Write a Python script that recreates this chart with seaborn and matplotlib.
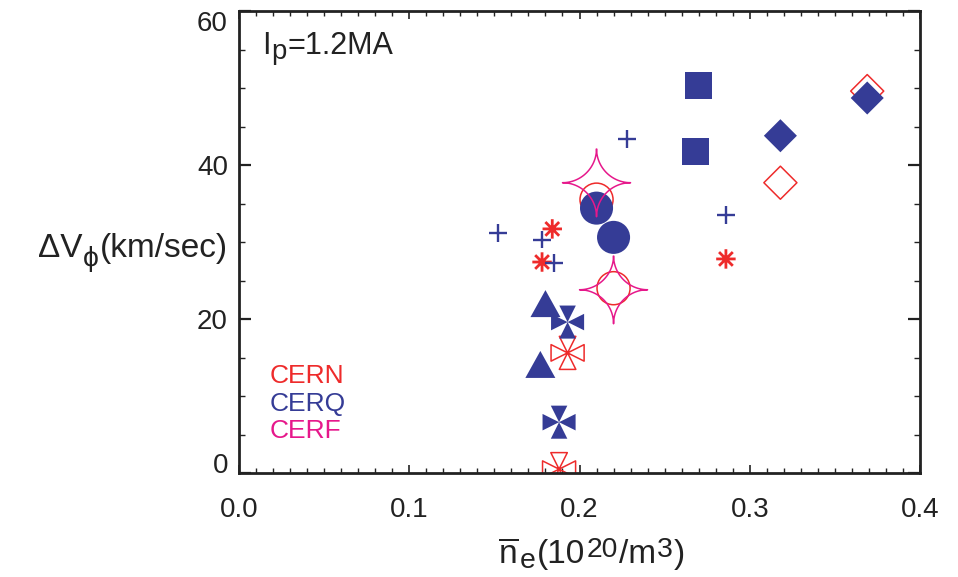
import numpy as np
import pandas as pd
import matplotlib
matplotlib.use("Agg")
import matplotlib.pyplot as plt
from matplotlib.path import Path
from matplotlib.transforms import offset_copy
from matplotlib.ticker import MultipleLocator, FormatStrFormatter
import seaborn as sns

# ---------------- data ----------------
# CERN (red, open symbols)
cern_ast_x = [0.184, 0.178, 0.286]
cern_ast_y = [31.7, 27.4, 27.8]
cern_circ_x = [0.210, 0.220]
cern_circ_y = [35.5, 24.0]
cern_bow_x = [0.193, 0.188]
cern_bow_y = [15.6, 0.5]
cern_dia_x = [0.318, 0.369]
cern_dia_y = [37.7, 49.6]

# CERQ (blue, filled symbols)
cerq_plus_x = [0.152, 0.178, 0.185, 0.228, 0.286]
cerq_plus_y = [31.2, 30.3, 27.3, 43.4, 33.5]
cerq_circ_x = [0.210, 0.220]
cerq_circ_y = [34.4, 30.6]
cerq_tri_x = [0.180, 0.177]
cerq_tri_y = [22.0, 14.1]
cerq_bow_x = [0.193, 0.188]
cerq_bow_y = [19.6, 6.6]
cerq_sq_x = [0.270, 0.268]
cerq_sq_y = [50.3, 41.8]
cerq_dia_x = [0.318, 0.369]
cerq_dia_y = [43.8, 48.7]

# CERF (magenta, open stars)
cerf_star_x = [0.210, 0.220]
cerf_star_y = [37.7, 23.8]

legend_names = ["CERN", "CERQ", "CERF"]
x_ticks = [0.0, 0.1, 0.2, 0.3, 0.4]
y_ticks = [0, 20, 40, 60]

RED = "#EE2B2B"
BLUE = "#353C96"
MAGENTA = "#E6188B"
INK = "#222222"

# ---------------- marker shapes ----------------
def line_path(segments):
    verts, codes = [], []
    for (a, b) in segments:
        verts += [a, b]
        codes += [Path.MOVETO, Path.LINETO]
    return Path(verts, codes)


PLUS = line_path([((-1, 0), (1, 0)), ((0, -1), (0, 1))])
ang = np.deg2rad([0, 45, 90, 135])
ASTER = line_path([((-np.cos(a), -np.sin(a)), (np.cos(a), np.sin(a))) for a in ang])
DIAMOND = Path([(0, 1), (1, 0), (0, -1), (-1, 0), (0, 1)], closed=True)
TRIANGLE = Path([(0, 0.9), (-1, -0.9), (1, -0.9), (0, 0.9)], closed=True)
SQUARE = Path([(-1, -1), (1, -1), (1, 1), (-1, 1), (-1, -1)], closed=True)


def bowtie_path(a=0.5):
    tris = [
        [(0, 0), (-a, 1), (a, 1)],
        [(0, 0), (a, -1), (-a, -1)],
        [(0, 0), (-1, -a), (-1, a)],
        [(0, 0), (1, a), (1, -a)],
    ]
    verts, codes = [], []
    for t in tris:
        verts += t + [t[0]]
        codes += [Path.MOVETO, Path.LINETO, Path.LINETO, Path.CLOSEPOLY]
    return Path(verts, codes)


def star_path(n=40):
    # four concave quarter-circle sides meeting at cusps (top, right, bottom, left)
    arcs = [
        ((1, 1), 180, 270),    # top -> right
        ((1, -1), 90, 180),    # right -> bottom
        ((-1, -1), 0, 90),     # bottom -> left
        ((-1, 1), -90, 0),     # left -> top
    ]
    pts = []
    for i, ((cx, cy), a0, a1) in enumerate(arcs):
        t = np.deg2rad(np.linspace(a0, a1, n))
        seg = np.column_stack([cx + np.cos(t), cy + np.sin(t)])
        pts.append(seg if i == 0 else seg[1:])
    return Path(np.vstack(pts))


BOWTIE = bowtie_path()
STAR = star_path()

# ---------------- figure ----------------
sns.set_style("ticks")
plt.rcParams["font.family"] = ["Liberation Sans", "DejaVu Sans"]
plt.rcParams["mathtext.fontset"] = "custom"
plt.rcParams["mathtext.rm"] = "Liberation Sans"
plt.rcParams["mathtext.it"] = "Liberation Sans:italic"
plt.rcParams["mathtext.fallback"] = "stixsans"

fig = plt.figure(figsize=(9.58, 5.77), dpi=100)
ax = fig.add_axes([239 / 958, 1 - 473 / 577, 681 / 958, 462 / 577])


def draw(xs, ys, marker, color, size_pt, filled, lw=1.1):
    df = pd.DataFrame({"x": xs, "y": ys})
    kw = dict(data=df, x="x", y="y", ax=ax, marker=marker, s=size_pt ** 2,
              color=color, legend=False)
    if filled:
        kw.update(edgecolor="none", linewidth=0)
    else:
        kw.update(facecolor="none", edgecolor=color, linewidth=lw,
                  joinstyle="round")
    sns.scatterplot(**kw)


# CERN
draw(cern_ast_x, cern_ast_y, ASTER, RED, 14.0, False, lw=2.0)
draw(cern_circ_x, cern_circ_y, "o", RED, 23.8, False)
draw(cern_bow_x, cern_bow_y, BOWTIE, RED, 23.8, False)
draw(cern_dia_x, cern_dia_y, DIAMOND, RED, 23.8, False)
# CERQ
draw(cerq_plus_x, cerq_plus_y, PLUS, BLUE, 12.6, False, lw=1.7)
draw(cerq_circ_x, cerq_circ_y, "o", BLUE, 23.8, True)
draw(cerq_tri_x, cerq_tri_y, TRIANGLE, BLUE, 21.6, True)
draw(cerq_bow_x, cerq_bow_y, BOWTIE, BLUE, 23.8, True)
draw(cerq_sq_x, cerq_sq_y, SQUARE, BLUE, 19.4, True)
draw(cerq_dia_x, cerq_dia_y, DIAMOND, BLUE, 23.8, True)
# CERF
draw(cerf_star_x, cerf_star_y, STAR, MAGENTA, 49.0, False)

# ---------------- axes ----------------
ax.set_xlim(0.0, 0.4)
ax.set_ylim(0, 60)
ax.xaxis.set_minor_locator(MultipleLocator(0.01))
ax.yaxis.set_minor_locator(MultipleLocator(5))
ax.set_xticks(x_ticks)
ax.set_yticks(y_ticks)
ax.xaxis.set_major_formatter(FormatStrFormatter("%.1f"))
ax.yaxis.set_major_formatter(FormatStrFormatter("%d"))
ax.set_xlabel("")
ax.set_ylabel("")

for side in ["left", "right", "top", "bottom"]:
    ax.spines[side].set_visible(True)
    ax.spines[side].set_linewidth(2.0)
    ax.spines[side].set_color(INK)

ax.tick_params(axis="both", which="both", direction="in", top=True, right=True,
               color=INK, labelcolor=INK)
ax.tick_params(axis="x", which="major", length=5.8, width=1.2, labelsize=20, pad=17)
ax.tick_params(axis="x", which="minor", length=3.3, width=1.0)
ax.tick_params(axis="y", which="major", length=8.6, width=1.6, labelsize=20, pad=8)
ax.tick_params(axis="y", which="minor", length=4.3, width=1.0)

# end labels of the y axis sit inside the axis range
ylabels = ax.get_yticklabels()
ylabels[-1].set_verticalalignment("top")
ylabels[0].set_verticalalignment("baseline")


# ---------------- text with sub/superscripts ----------------
def rich_text(x, y, pieces, fontsize, color, ha="left", gap=0.0):
    """Lay out (text, scale, rise_in_em) pieces on one baseline at axes coords."""
    renderer = fig.canvas.get_renderer()
    widths = []
    for s, scale, _ in pieces:
        t = fig.text(0, 0, s, fontsize=fontsize * scale)
        widths.append(t.get_window_extent(renderer).width * 72.0 / fig.dpi)
        t.remove()
    total = sum(widths) + gap * (len(pieces) - 1)
    off = {"left": 0.0, "center": -total / 2.0, "right": -total}[ha]
    for (s, scale, rise), w in zip(pieces, widths):
        tr = offset_copy(ax.transAxes, fig=fig, x=off, y=rise * fontsize,
                         units="points")
        ax.text(x, y, s, transform=tr, fontsize=fontsize * scale, color=color,
                va="baseline", ha="left", clip_on=False)
        off += w + gap


# y-axis title
rich_text(-0.016, 0.4675,
          [("\u0394V", 1.0, 0.0), ("\u03d5", 0.85, -0.28), ("(km/sec)", 1.0, 0.0)],
          fontsize=24, color=INK, ha="right", gap=0.6)
# x-axis title
rich_text(0.518, -0.195,
          [(r"$\mathregular{\overline{n}}$", 1.0, 0.0), ("e", 0.85, -0.15),
           ("(10", 1.0, 0.0), ("20", 0.85, 0.17), ("/m", 1.0, 0.0),
           ("3", 0.85, 0.17), (")", 1.0, 0.0)],
          fontsize=24, color=INK, ha="center", gap=0.8)
# plasma current annotation
rich_text(0.034, 0.907,
          [("I", 1.0, 0.0), ("p", 0.9, -0.15), ("=1.2MA", 1.0, 0.0)],
          fontsize=22, color=INK, ha="left", gap=0.4)

for name, col, yb in zip(legend_names, [RED, BLUE, MAGENTA], [0.195, 0.134, 0.0758]):
    ax.text(0.0455, yb, name, transform=ax.transAxes, fontsize=19,
            color=col, va="baseline", ha="left")

fig.savefig("out.png", dpi=100)
